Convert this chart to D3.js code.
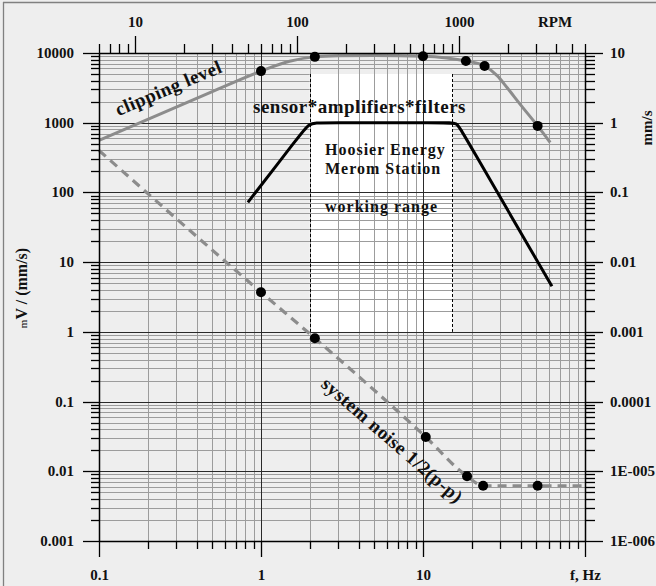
<!DOCTYPE html>
<html>
<head>
<meta charset="utf-8">
<script src="https://cdn.jsdelivr.net/npm/d3@7"></script>
<style>
  html, body { margin: 0; padding: 0; background: #eeeeee; }
  svg { display: block; }
  text { font-family: "Liberation Serif", "Times New Roman", serif; font-weight: bold; fill: #111; }
</style>
</head>
<body>
<svg id="chart" width="656" height="586"></svg>
<script>
// Frequency in Hz, levels in mV/(mm/s)

// clipping level of the recorder
const clipFreq  = [0.1, 0.5, 1, 1.5, 2.15, 3, 5, 10, 14, 18.4, 24, 28.8, 33, 39.7, 51, 61];
const clipLevel = [560, 2800, 5500, 7600, 8800, 9100, 9200, 9000, 8500, 7700, 6500, 4700, 3200, 1850, 900, 520];
const clipDotFreq  = [1, 2.15, 10, 18.4, 24, 51];
const clipDotLevel = [5500, 8800, 9000, 7700, 6500, 900];

// system noise, half peak-to-peak
const noiseFreq  = [0.1, 1, 2.15, 10.4, 18.7, 23.5, 30, 51, 100];
const noiseLevel = [400, 3.7, 0.81, 0.031, 0.0085, 0.0062, 0.0062, 0.0062, 0.0062];
const noiseDotFreq  = [1, 2.15, 10.4, 18.7, 23.5, 51];
const noiseDotLevel = [3.7, 0.81, 0.031, 0.0085, 0.0062, 0.0062];

// sensor * amplifiers * filters response (spline control points)
const sensorFreq  = [0.83, 1.7, 1.98, 2.3, 14, 16.2, 17.2, 62.5];
const sensorLevel = [72, 618, 1000, 1000, 1000, 1000, 787, 4.5];

// station working range
const workFreq  = [2, 15.2];
const workLevel = [1, 5000];

// axis ticks
const freqTicks = [0.1, 1, 10, 100];
const freqTickLabels = ["0.1", "1", "10", "f, Hz"];
const levelTicks = [0.001, 0.01, 0.1, 1, 10, 100, 1000, 10000];
const levelTickLabels = ["0.001", "0.01", "0.1", "1", "10", "100", "1000", "10000"];
const velTicks = [1e-6, 1e-5, 1e-4, 0.001, 0.01, 0.1, 1, 10];
const velTickLabels = ["1E-006", "1E-005", "0.0001", "0.001", "0.01", "0.1", "1", "10"];
const rpmTicks = [10, 100, 1000];
const rpmTickLabels = ["10", "100", "1000"];

const L = 99, R = 585, T = 53, B = 541;
const svg = d3.select("#chart");

const x = d3.scaleLog().domain([0.1, 100]).range([L, R]);
const y = d3.scaleLog().domain([0.001, 10000]).range([B, T]);
const yVel = d3.scaleLog().domain([1e-6, 10]).range([B, T]);
const xRpm = d3.scaleLog().domain([6, 6000]).range([L, R]);

// pixel-snapped copies for grid and axes
const snap = s => s.copy().interpolate(d3.interpolateRound);
const xs = snap(x), ys = snap(y), yVs = snap(yVel), xRs = snap(xRpm);

function minorTicks(lo, hi) {
  const out = [];
  for (let e = Math.floor(Math.log10(lo)); e <= Math.ceil(Math.log10(hi)); e++) {
    for (let k = 2; k <= 9; k++) {
      const v = +(k * Math.pow(10, e)).toPrecision(6);
      if (v >= lo * 0.9999 && v <= hi * 1.0001) out.push(v);
    }
  }
  return out;
}
const freqMinor = minorTicks(0.1, 100);
const levelMinor = minorTicks(0.001, 10000);
const velMinor = minorTicks(1e-6, 10);
const rpmMinor = minorTicks(6, 6000);

// outer frame
svg.append("line").attr("x1", 3.5).attr("x2", 3.5).attr("y1", 2).attr("y2", 586)
  .attr("stroke", "#808080").attr("stroke-width", 1.3);
svg.append("line").attr("x1", 3).attr("x2", 656).attr("y1", 2.5).attr("y2", 2.5)
  .attr("stroke", "#808080").attr("stroke-width", 1.3);

const grid = svg.append("g");
const minorColor = "#9c9c9c";

function hLines(g, vals, color) {
  g.selectAll(null).data(vals).join("line")
    .attr("x1", L).attr("x2", R)
    .attr("y1", d => ys(d) + 0.5).attr("y2", d => ys(d) + 0.5)
    .attr("stroke", color).attr("stroke-width", 1);
}
function vLines(g, vals, color) {
  g.selectAll(null).data(vals).join("line")
    .attr("y1", T).attr("y2", B)
    .attr("x1", d => xs(d) + 0.5).attr("x2", d => xs(d) + 0.5)
    .attr("stroke", color).attr("stroke-width", 1);
}

// upper minor rows sit behind the working-range panel
hLines(grid.append("g"), levelMinor.filter(v => v >= 100), minorColor);

// working range panel
svg.append("rect")
  .attr("x", x(workFreq[0])).attr("y", y(workLevel[1]))
  .attr("width", x(workFreq[1]) - x(workFreq[0]))
  .attr("height", y(workLevel[0]) - y(workLevel[1]))
  .attr("fill", "#ffffff");

const grid2 = svg.append("g");
hLines(grid2.append("g"), levelMinor.filter(v => v < 100), minorColor);
vLines(grid2.append("g"), freqMinor, minorColor);
hLines(grid2.append("g"), levelTicks, "#2a2a2a");
vLines(grid2.append("g"), freqTicks, "#2a2a2a");

// dashed panel edges
svg.append("g").selectAll("line").data(workFreq).join("line")
  .attr("x1", d => xs(d) + 0.5).attr("x2", d => xs(d) + 0.5)
  .attr("y1", y(workLevel[1])).attr("y2", y(workLevel[0]))
  .attr("stroke", "#000").attr("stroke-width", 1).attr("stroke-dasharray", "3,2");

// curves
const mono = d3.line().x(d => x(d[0])).y(d => y(d[1])).curve(d3.curveMonotoneX);
const basis = d3.line().x(d => x(d[0])).y(d => y(d[1])).curve(d3.curveBasis);

svg.append("path")
  .attr("d", mono(clipFreq.map((f, i) => [f, clipLevel[i]])))
  .attr("fill", "none").attr("stroke", "#8c8c8c").attr("stroke-width", 3);

svg.append("path")
  .attr("d", mono(noiseFreq.map((f, i) => [f, noiseLevel[i]])))
  .attr("fill", "none").attr("stroke", "#8c8c8c").attr("stroke-width", 3.2)
  .attr("stroke-dasharray", "9,6");

svg.append("path")
  .attr("d", basis(sensorFreq.map((f, i) => [f, sensorLevel[i]])))
  .attr("fill", "none").attr("stroke", "#000").attr("stroke-width", 3)
  .attr("stroke-linejoin", "round");

// markers
const dots = clipDotFreq.map((f, i) => [f, clipDotLevel[i]])
  .concat(noiseDotFreq.map((f, i) => [f, noiseDotLevel[i]]));
svg.append("g").selectAll("circle").data(dots).join("circle")
  .attr("cx", d => x(d[0])).attr("cy", d => y(d[1])).attr("r", 5)
  .attr("fill", "#000");

// annotations
svg.append("text")
  .attr("transform", "translate(171,94) rotate(-23)")
  .attr("text-anchor", "middle").attr("font-size", 19).attr("letter-spacing", 0.5)
  .text("clipping level");

svg.append("text")
  .attr("x", 253).attr("y", 113)
  .attr("font-size", 19).attr("letter-spacing", 0.5)
  .text("sensor*amplifiers*filters");

[["Hoosier Energy", 155], ["Merom Station", 174], ["working range", 212]].forEach(([t, yy]) => {
  svg.append("text").attr("x", 325).attr("y", yy)
    .attr("font-size", 16).attr("letter-spacing", 1).text(t);
});

svg.append("text")
  .attr("transform", "translate(388,445) rotate(41)")
  .attr("text-anchor", "middle").attr("font-size", 19).attr("letter-spacing", 0.5)
  .text("system noise 1/2(p-p)");

// axes
function styleAxis(g, size) {
  g.attr("font-family", null).attr("font-size", null);
  g.selectAll("path.domain").attr("stroke", "#000").attr("stroke-width", 1.5);
  g.selectAll(".tick line").attr("stroke", "#000").attr("stroke-width", 1.3);
  g.selectAll("text").attr("font-size", size).attr("fill", "#111");
}
function addAxis(axisMajor, axisMinor, transform) {
  const gMin = svg.append("g").attr("transform", transform).call(axisMinor);
  gMin.select("path.domain").remove();
  styleAxis(gMin, 15);
  const gMaj = svg.append("g").attr("transform", transform).call(axisMajor);
  styleAxis(gMaj, 15);
  return gMaj;
}

addAxis(
  d3.axisBottom(xs).tickValues(freqTicks).tickSize(16).tickSizeOuter(0).tickPadding(12)
    .tickFormat((d, i) => freqTickLabels[i]),
  d3.axisBottom(xs).tickValues(freqMinor).tickSize(8).tickSizeOuter(0).tickFormat(""),
  `translate(0,${B})`);

addAxis(
  d3.axisLeft(ys).tickValues(levelTicks).tickSize(16).tickSizeOuter(0).tickPadding(9)
    .tickFormat((d, i) => levelTickLabels[i]),
  d3.axisLeft(ys).tickValues(levelMinor).tickSize(8).tickSizeOuter(0).tickFormat(""),
  `translate(${L},0)`);

addAxis(
  d3.axisRight(yVs).tickValues(velTicks).tickSize(18).tickSizeOuter(0).tickPadding(7)
    .tickFormat((d, i) => velTickLabels[i]),
  d3.axisRight(yVs).tickValues(velMinor).tickSize(10).tickSizeOuter(0).tickFormat(""),
  `translate(${R},0)`);

addAxis(
  d3.axisTop(xRs).tickValues(rpmTicks).tickSize(17).tickSizeOuter(0).tickPadding(9)
    .tickFormat((d, i) => rpmTickLabels[i]),
  d3.axisTop(xRs).tickValues(rpmMinor).tickSize(9).tickSizeOuter(0).tickFormat(""),
  `translate(0,${T})`);

svg.append("text").attr("x", 555).attr("y", 27)
  .attr("text-anchor", "middle").attr("font-size", 15).text("RPM");

// axis titles
const lt = svg.append("text")
  .attr("transform", "translate(27,288) rotate(-90)")
  .attr("text-anchor", "middle");
lt.append("tspan").attr("font-size", 11).attr("font-weight", "normal").text("m");
lt.append("tspan").attr("font-size", 16).text("V / (mm/s)");

svg.append("text")
  .attr("transform", "translate(652,128) rotate(-90)")
  .attr("text-anchor", "middle").attr("font-size", 15)
  .text("mm/s");
</script>
</body>
</html>
